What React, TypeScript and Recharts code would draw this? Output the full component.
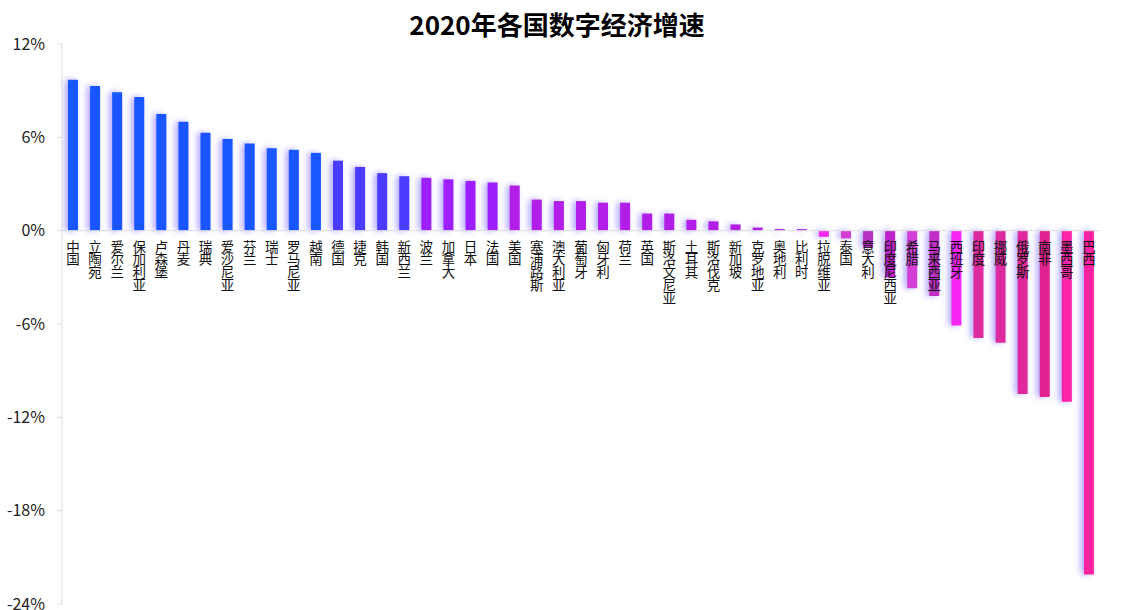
import { BarChart, Bar, XAxis, YAxis, Cell, LabelList, ReferenceLine } from "recharts";

const countries = [
  "中国", "立陶宛", "爱尔兰", "保加利亚", "卢森堡", "丹麦", "瑞典", "爱沙尼亚",
  "芬兰", "瑞士", "罗马尼亚", "越南", "德国", "捷克", "韩国", "新西兰",
  "波兰", "加拿大", "日本", "法国", "美国", "塞浦路斯", "澳大利亚", "葡萄牙",
  "匈牙利", "荷兰", "英国", "斯洛文尼亚", "土耳其", "斯洛伐克", "新加坡", "克罗地亚",
  "奥地利", "比利时", "拉脱维亚", "泰国", "意大利", "印度尼西亚", "希腊", "马来西亚",
  "西班牙", "印度", "挪威", "俄罗斯", "南非", "墨西哥", "巴西",
];

const growth = [
  9.7, 9.3, 8.9, 8.6, 7.5, 7.0, 6.3, 5.9,
  5.6, 5.3, 5.2, 5.0, 4.5, 4.1, 3.7, 3.5,
  3.4, 3.3, 3.2, 3.1, 2.9, 2.0, 1.9, 1.9,
  1.8, 1.8, 1.1, 1.1, 0.7, 0.6, 0.4, 0.2,
  0.1, 0.1, -0.4, -0.5, -1.1, -3.0, -3.7, -4.2,
  -6.1, -6.9, -7.2, -10.5, -10.7, -11.0, -22.1,
];

const yTicks = [-24, -18, -12, -6, 0, 6, 12];

// bar colours, same order as countries
const palette = [
  ...Array(12).fill("#1a56ff"),
  ...Array(4).fill("#4a3cff"),
  ...Array(4).fill("#9c1ffc"),
  ...Array(14).fill("#b21de8"),
  "#f82cf0", "#d43cd4", "#b830c0", "#c020c8", "#d23ed6", "#c22ec8",
  "#f726f5", "#e02aa0", "#dd2aa0", "#e0289c", "#e0208f", "#ff24a8", "#ff22a0",
];

const data = countries.map((name, i) => ({ name, value: growth[i] }));

const FONT = '"Noto Sans CJK SC", "Noto Sans", sans-serif';

function CountryLabel(props: any) {
  const { x, y, width, height, index } = props;
  const v = growth[index];
  const top = Math.min(y, y + height);
  const bottom = Math.max(y, y + height);
  const zero = v < 0 ? top : bottom;
  const cx = x + width / 2;
  const chars = countries[index].split("");
  return (
    <text x={cx} y={zero + 21} textAnchor="middle" fontSize={13.5} fill="#111" fontFamily={FONT}>
      {chars.map((c, k) => (
        <tspan key={k} x={cx} dy={k === 0 ? 0 : 12.8}>
          {c}
        </tspan>
      ))}
    </text>
  );
}

export default function App() {
  return (
    <div style={{ position: "absolute", left: 0, top: 0, width: 1122, height: 610, background: "#fff" }}>
      <div
        style={{
          position: "absolute",
          left: 0,
          top: 6,
          width: 1114,
          textAlign: "center",
          fontFamily: FONT,
          fontWeight: 700,
          fontSize: 26,
          color: "#000",
          lineHeight: "36px",
        }}
      >
        2020年各国数字经济增速
      </div>
      <BarChart
        width={1122}
        height={610}
        data={data}
        margin={{ top: 44, right: 22, left: 0, bottom: 6 }}
      >
        <XAxis dataKey="name" hide />
        <YAxis
          domain={[-24, 12]}
          ticks={yTicks}
          width={62}
          tickFormatter={(v) => `${v}%`}
          tick={{ fontSize: 16, fill: "#222", fontFamily: FONT }}
          tickSize={5}
          tickMargin={12}
          axisLine={{ stroke: "#dddddd" }}
          tickLine={{ stroke: "#dddddd" }}
          interval={0}
        />
        <ReferenceLine y={0} stroke="#dddddd" />
        <Bar dataKey="value" barSize={10} isAnimationActive={false}>
          {data.map((d, i) => (
            <Cell
              key={d.name}
              fill={palette[i]}
              style={{ filter: "drop-shadow(-3px 0px 3px rgba(110, 90, 255, 0.55))" }}
            />
          ))}
          <LabelList dataKey="name" content={CountryLabel} />
        </Bar>
      </BarChart>
    </div>
  );
}
